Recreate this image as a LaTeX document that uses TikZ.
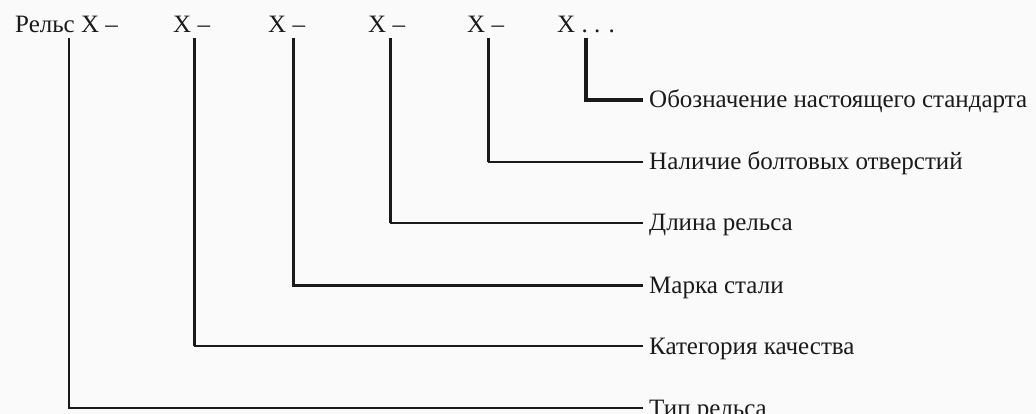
\documentclass[tikz,border=0pt]{standalone}
\usepackage{fontspec}
\setmainfont{Liberation Serif}
\definecolor{bgc}{HTML}{FAFAFA}
\definecolor{ink}{HTML}{1A1A1A}
\begin{document}
\begin{tikzpicture}[x=1pt,y=-1pt,
  txt/.style={font=\fontsize{25}{28}\selectfont, text=ink, inner sep=0pt},
  top/.style={txt, anchor=base west},
  lab/.style={txt, anchor=west, inner xsep=6pt, inner ysep=0pt, text height=16pt, text depth=0pt},
  thinln/.style={draw=ink, line width=1.6pt},
  thickln/.style={draw=ink, line width=3pt},
  boldln/.style={draw=ink, line width=3.6pt}]
\useasboundingbox[fill=bgc] (0,0) rectangle (1036,414);
% top row
\node[top] (t1) at (15,33) {Рельс X –};
\node[top] (t2) at (173,33) {X –};
\node[top] (t3) at (268,33) {X –};
\node[top] (t4) at (368,33) {X –};
\node[top] (t5) at (467,33) {X –};
\node[top] (t6) at (557,33) {X . . .};
% starts of connectors
\coordinate (s1) at (69,38);
\coordinate (s2) at (194,38);
\coordinate (s3) at (293,38);
\coordinate (s4) at (390,38);
\coordinate (s5) at (488,38);
\coordinate (s6) at (586,38);
% labels
\node[lab] (l1) at (643,408) {Тип рельса};
\node[lab] (l2) at (643,346) {Категория качества};
\node[lab] (l3) at (643,285) {Марка стали};
\node[lab] (l4) at (643,223) {Длина рельса};
\node[lab] (l5) at (643,162) {Наличие болтовых отверстий};
\node[lab] (l6) at (643,100) {Обозначение настоящего стандарта};
% connectors
\draw[thinln]  (s1) |- (l1.west);
\draw[thickln] (s2) -- (s2 |- l2.west);
\draw[thinln]  (s2 |- l2.west) -- (l2.west);
\draw[thickln] (s3) |- (l3.west);
\draw[thickln] (s4) -- (s4 |- l4.west);
\draw[thinln]  (s4 |- l4.west) -- (l4.west);
\draw[thickln] (s5) -- (s5 |- l5.west);
\draw[thinln]  (s5 |- l5.west) -- (l5.west);
\draw[boldln]  (s6) |- (l6.west);
\end{tikzpicture}
\end{document}
